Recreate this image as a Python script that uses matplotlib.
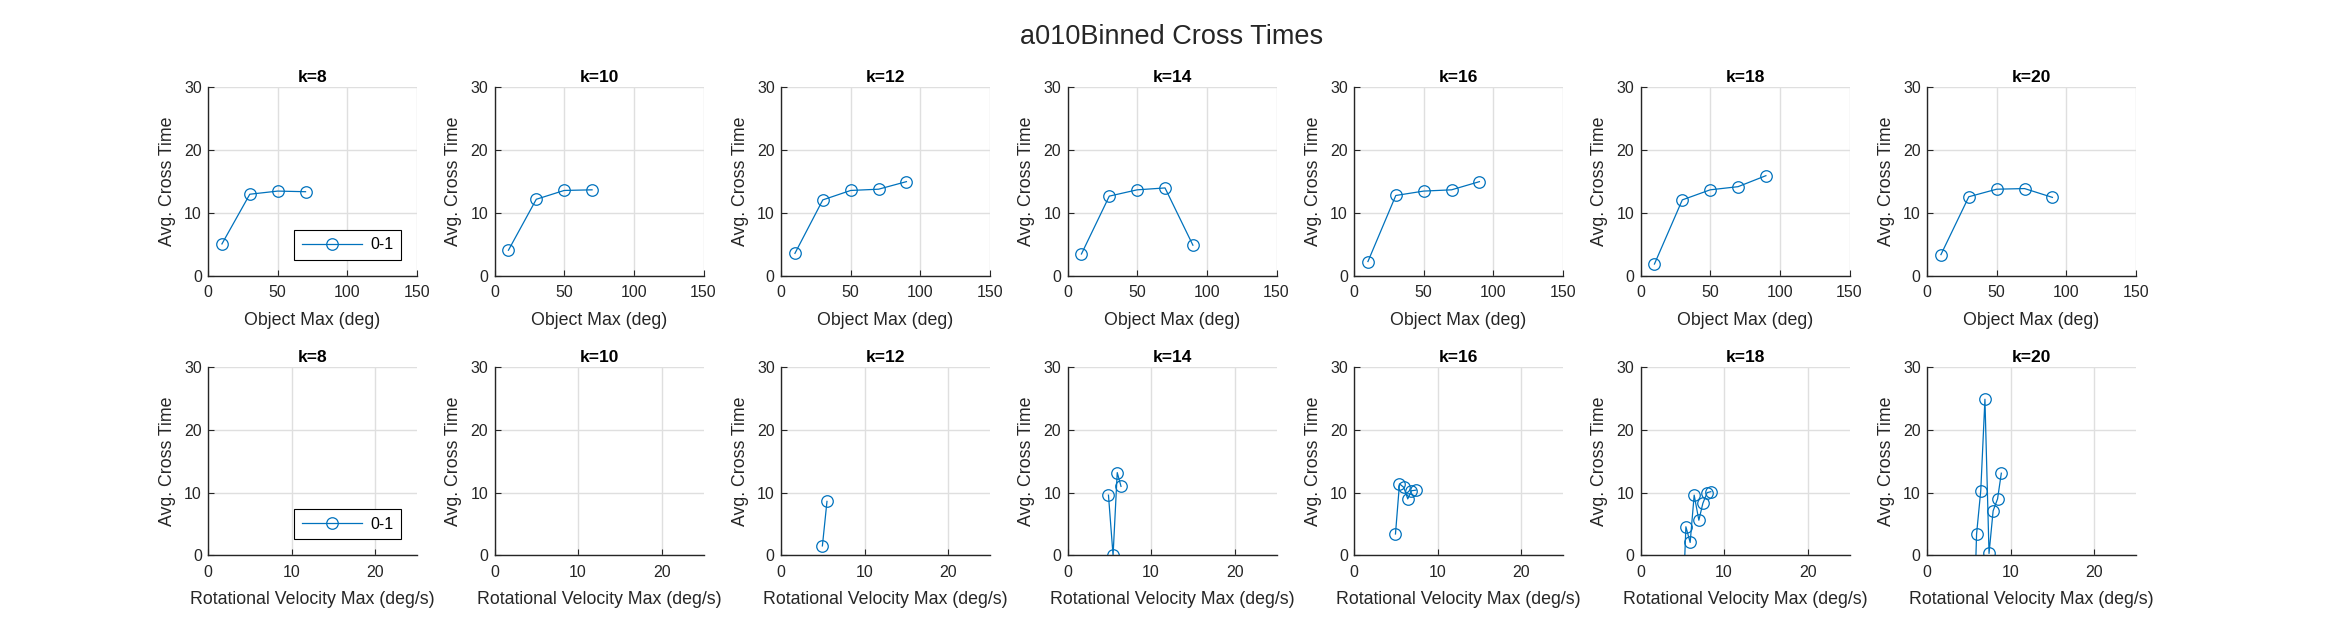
import matplotlib
matplotlib.use('Agg')
import matplotlib.pyplot as plt

plt.rcParams['font.family'] = ['Liberation Sans', 'DejaVu Sans']

k_labels = ['k=8', 'k=10', 'k=12', 'k=14', 'k=16', 'k=18', 'k=20']

# top row: object max bins (deg) vs avg cross time
obj_x = [
    [10, 30, 50, 70],
    [10, 30, 50, 70],
    [10, 30, 50, 70, 90],
    [10, 30, 50, 70, 90],
    [10, 30, 50, 70, 90],
    [10, 30, 50, 70, 90],
    [10, 30, 50, 70, 90],
]
obj_y = [
    [5.1, 13.0, 13.5, 13.4],
    [4.1, 12.2, 13.6, 13.7],
    [3.6, 12.1, 13.6, 13.8, 15.0],
    [3.5, 12.7, 13.7, 14.0, 4.9],
    [2.3, 12.8, 13.5, 13.7, 15.0],
    [1.9, 12.1, 13.7, 14.2, 15.95],
    [3.4, 12.6, 13.8, 13.9, 12.5],
]

# bottom row: rotational velocity max bins (deg/s) vs avg cross time
rot_x = [
    [],
    [],
    [4.95, 5.5],
    [4.9, 5.45, 5.95, 6.4],
    [4.96, 5.44, 5.95, 6.43, 6.87, 7.42],
    [4.93, 5.43, 5.94, 6.42, 6.98, 7.46, 7.97, 8.41],
    [5.45, 5.93, 6.43, 6.93, 7.42, 7.91, 8.44, 8.89],
]
rot_y = [
    [],
    [],
    [1.5, 8.6],
    [9.6, 0.0, 13.2, 11.0],
    [3.4, 11.4, 10.85, 9.0, 10.3, 10.4],
    [-13.0, 4.55, 2.05, 9.6, 5.6, 8.3, 10.0, 10.15],
    [-18.0, 3.4, 10.3, 24.9, 0.3, 7.1, 9.0, 13.1],
]

series_name = '0-1'
blue = '#0072BD'
dark = '#262626'

W, H = 2344, 625
fig = plt.figure(figsize=(W / 100, H / 100), dpi=100)

lefts = [208 + i * 286.5 for i in range(7)]
ax_w = 209
rows = [(276, 188.7), (555.3, 188)]  # (bottom px, height px)


def style_axes(ax, xlim, xticks, xlabel, title):
    ax.set_xlim(xlim)
    ax.set_ylim(0, 30)
    ax.set_xticks(xticks)
    ax.set_yticks([0, 10, 20, 30])
    ax.grid(True, color='#dfdfdf', linewidth=1.0)
    ax.set_axisbelow(True)
    for s in ['top', 'right']:
        ax.spines[s].set_visible(False)
    for s in ['left', 'bottom']:
        ax.spines[s].set_color(dark)
        ax.spines[s].set_linewidth(1.0)
    ax.tick_params(direction='in', length=4, width=0.8, colors=dark,
                   labelsize=11.5)
    ax.tick_params(axis='x', pad=6.8)
    ax.tick_params(axis='y', pad=4.5)
    ax.set_xlabel(xlabel, fontsize=12.8, color=dark, labelpad=8)
    ax.set_ylabel('Avg. Cross Time', fontsize=12.8, color=dark, labelpad=6)
    ax.set_title(title, fontsize=12.5, fontweight='bold', pad=4)


for r, (bot, hgt) in enumerate(rows):
    for i in range(7):
        ax = fig.add_axes([lefts[i] / W, (H - bot) / H, ax_w / W, hgt / H])
        if r == 0:
            ax.plot(obj_x[i], obj_y[i], '-o', color=blue, mfc='none',
                    ms=8.3, mew=0.9, lw=0.9, label=series_name)
            style_axes(ax, (0, 150), [0, 50, 100, 150], 'Object Max (deg)', k_labels[i])
        else:
            ax.plot(rot_x[i], rot_y[i], '-o', color=blue, mfc='none',
                    ms=8.3, mew=0.9, lw=0.9, label=series_name)
            style_axes(ax, (0, 25), [0, 10, 20], 'Rotational Velocity Max (deg/s)', k_labels[i])
        if i == 0:
            leg = ax.legend(loc='lower right',
                            bbox_to_anchor=(1 - 16.4 / ax_w, 16.5 / hgt),
                            borderaxespad=0, fancybox=False, framealpha=1,
                            edgecolor='black', fontsize=11.5, handlelength=3.8,
                            borderpad=0.45, handletextpad=0.5)
            leg.get_frame().set_linewidth(0.8)

fig.text(0.5, 1 - 37 / H, 'a010Binned Cross Times', ha='center', va='center',
         fontsize=19.5, color=dark)

fig.savefig('out.png', dpi=100)
